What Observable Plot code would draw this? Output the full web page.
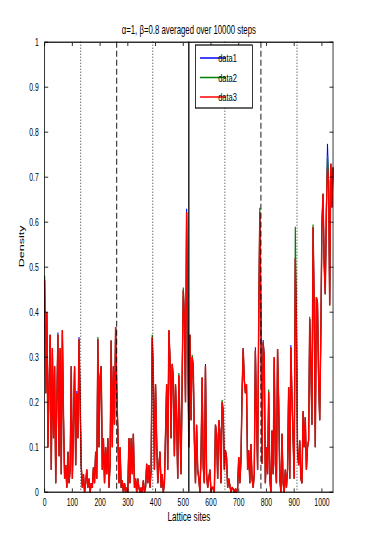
<!DOCTYPE html>
<html>
<head>
<meta charset="utf-8">
<script src="https://cdn.jsdelivr.net/npm/d3@7"></script>
<script src="https://cdn.jsdelivr.net/npm/@observablehq/plot@0.6"></script>
<style>
  html, body { margin: 0; padding: 0; background: #fff; overflow: hidden; }
  #wrap { width: 367px; height: 552px; overflow: hidden; position: relative; }
</style>
</head>
<body>
<div id="wrap"></div>
<script>
const titleText = "\u03b1=1, \u03b2=0.8 averaged over 10000 steps";
const xLabel = "Lattice sites";
const yLabel = "Density";
const seriesNames = ["data1", "data2", "data3"];
const seriesColors = ["#0000ff", "#008000", "#ff0000"];
const siteStep = 4;
const xTicks = [0, 100, 200, 300, 400, 500, 600, 700, 800, 900, 1000];
const yTicks = [0, 0.1, 0.2, 0.3, 0.4, 0.5, 0.6, 0.7, 0.8, 0.9, 1];
const dottedSites = [130, 390, 650, 910];
const dashedSites = [260, 780];
const solidSites = [520];

const data3 = [
0.47,0.22,0.40,0.10,0.24,0.35,0.05,0.32,0.12,0.28,0.02,0.20,0.35,0.08,0.32,0.04,0.36,0.17,0.03,0.06,
0.01,0.09,0.02,0.05,0.28,0.03,0.15,0.28,0.06,0.22,0.12,0.34,0.20,0.06,0.01,0.04,0.00,0.02,0.05,0.01,
0.03,0.00,0.02,0.01,0.055,0.02,0.09,0.03,0.34,0.10,0.255,0.28,0.05,0.12,0.02,0.10,0.04,0.12,0.01,0.06,
0.337,0.10,0.28,0.15,0.367,0.23,0.137,0.02,0.10,0.01,0.026,0.00,0.02,0.00,0.01,0.00,0.12,0.02,0.12,0.04,
0.13,0.01,0.03,0.00,0.03,0.01,0.00,0.01,0.00,0.026,0.00,0.01,0.063,0.02,0.06,0.01,0.05,0.344,0.26,0.05,
0.24,0.115,0.02,0.06,0.09,0.01,0.04,0.00,0.02,0.13,0.24,0.05,0.36,0.30,0.12,0.285,0.255,0.08,0.24,0.16,
0.03,0.26,0.15,0.04,0.255,0.448,0.39,0.20,0.622,0.35,0.10,0.35,0.16,0.30,0.28,0.115,0.02,0.15,0.05,0.03,
0.00,0.08,0.255,0.055,0.02,0.28,0.04,0.01,0.03,0.05,0.00,0.01,0.01,0.00,0.15,0.13,0.03,0.16,0.137,0.02,
0.20,0.18,0.05,0.093,0.078,0.01,0.03,0.015,0.00,0.01,0.007,0.00,0.007,0.00,0.01,0.078,0.02,0.07,0.22,0.32,
0.25,0.22,0.24,0.05,0.093,0.02,0.107,0.03,0.01,0.04,0.315,0.174,0.05,0.38,0.622,0.39,0.063,0.333,0.30,0.02,
0.10,0.04,0.222,0.03,0.00,0.137,0.04,0.30,0.063,0.02,0.318,0.196,0.03,0.00,0.13,0.02,0.00,0.05,0.01,0.05,
0.233,0.03,0.322,0.21,0.12,0.03,0.52,0.367,0.09,0.06,0.115,0.03,0.02,0.18,0.10,0.167,0.05,0.10,0.115,0.385,
0.285,0.15,0.589,0.42,0.10,0.433,0.42,0.25,0.16,0.35,0.596,0.663,0.507,0.44,0.626,0.72,0.69,0.415,0.73,0.633,0.72
];

const data2 = [
0.48,0.22,0.40,0.10,0.24,0.35,0.05,0.32,0.12,0.28,0.02,0.20,0.35,0.08,0.32,0.04,0.36,0.17,0.03,0.06,
0.01,0.09,0.02,0.05,0.28,0.03,0.15,0.28,0.06,0.22,0.12,0.34,0.20,0.06,0.01,0.04,0.00,0.02,0.05,0.01,
0.03,0.00,0.02,0.01,0.055,0.02,0.09,0.03,0.345,0.10,0.255,0.28,0.05,0.12,0.02,0.10,0.04,0.12,0.01,0.06,
0.337,0.10,0.28,0.15,0.367,0.23,0.137,0.02,0.10,0.01,0.026,0.00,0.02,0.00,0.01,0.00,0.12,0.02,0.12,0.04,
0.13,0.01,0.03,0.00,0.03,0.01,0.00,0.01,0.00,0.026,0.00,0.01,0.063,0.02,0.06,0.01,0.05,0.35,0.26,0.05,
0.24,0.115,0.02,0.06,0.09,0.01,0.04,0.00,0.02,0.13,0.24,0.05,0.36,0.30,0.12,0.285,0.255,0.08,0.24,0.16,
0.03,0.265,0.15,0.04,0.255,0.455,0.39,0.20,0.622,0.35,0.10,0.35,0.16,0.305,0.28,0.115,0.02,0.15,0.05,0.03,
0.00,0.08,0.255,0.055,0.02,0.28,0.04,0.01,0.03,0.05,0.00,0.01,0.01,0.00,0.15,0.13,0.03,0.16,0.137,0.02,
0.205,0.18,0.05,0.093,0.078,0.01,0.03,0.015,0.00,0.01,0.007,0.00,0.007,0.00,0.01,0.078,0.02,0.07,0.22,0.32,
0.25,0.22,0.24,0.05,0.093,0.02,0.107,0.03,0.01,0.04,0.315,0.174,0.05,0.38,0.632,0.39,0.063,0.333,0.30,0.02,
0.10,0.04,0.228,0.03,0.00,0.137,0.04,0.30,0.063,0.02,0.318,0.196,0.03,0.00,0.13,0.02,0.00,0.05,0.01,0.05,
0.233,0.03,0.322,0.21,0.12,0.03,0.59,0.367,0.09,0.06,0.115,0.03,0.02,0.18,0.10,0.167,0.05,0.10,0.115,0.39,
0.285,0.15,0.595,0.42,0.10,0.433,0.42,0.25,0.16,0.35,0.596,0.663,0.507,0.44,0.626,0.748,0.69,0.415,0.73,0.633,0.72
];

const data1 = [
0.47,0.22,0.40,0.10,0.24,0.35,0.05,0.32,0.12,0.28,0.02,0.20,0.355,0.08,0.32,0.04,0.36,0.17,0.03,0.06,
0.01,0.09,0.02,0.05,0.28,0.03,0.15,0.28,0.06,0.225,0.12,0.345,0.20,0.06,0.01,0.04,0.00,0.02,0.05,0.01,
0.03,0.00,0.02,0.01,0.055,0.02,0.09,0.03,0.34,0.10,0.255,0.28,0.05,0.12,0.02,0.10,0.04,0.12,0.01,0.06,
0.337,0.10,0.28,0.15,0.367,0.23,0.137,0.02,0.10,0.01,0.026,0.00,0.02,0.00,0.01,0.00,0.12,0.02,0.12,0.04,
0.13,0.01,0.03,0.00,0.03,0.01,0.00,0.01,0.00,0.026,0.00,0.01,0.063,0.02,0.06,0.01,0.05,0.344,0.26,0.05,
0.24,0.115,0.02,0.06,0.09,0.01,0.04,0.00,0.02,0.13,0.24,0.05,0.36,0.30,0.12,0.285,0.255,0.08,0.24,0.16,
0.03,0.26,0.15,0.04,0.255,0.448,0.39,0.20,0.63,0.35,0.10,0.35,0.16,0.30,0.28,0.115,0.02,0.15,0.05,0.03,
0.00,0.08,0.255,0.055,0.02,0.285,0.04,0.01,0.03,0.05,0.00,0.01,0.01,0.00,0.15,0.13,0.03,0.16,0.137,0.02,
0.20,0.18,0.05,0.093,0.078,0.01,0.03,0.015,0.00,0.01,0.007,0.00,0.007,0.00,0.01,0.078,0.02,0.07,0.22,0.32,
0.25,0.22,0.24,0.05,0.093,0.02,0.107,0.03,0.01,0.04,0.322,0.174,0.05,0.38,0.622,0.39,0.063,0.338,0.30,0.02,
0.10,0.04,0.222,0.03,0.00,0.137,0.04,0.30,0.063,0.02,0.318,0.20,0.03,0.00,0.13,0.02,0.00,0.05,0.01,0.05,
0.233,0.03,0.327,0.21,0.12,0.03,0.52,0.367,0.09,0.06,0.115,0.03,0.02,0.18,0.10,0.167,0.05,0.10,0.115,0.385,
0.285,0.15,0.589,0.42,0.10,0.433,0.42,0.25,0.16,0.35,0.596,0.663,0.512,0.44,0.626,0.774,0.69,0.42,0.73,0.633,0.72
];

// horizontal squeeze of the original figure
const K = 0.65;
const W = 367 / K;
const H = 552;

const allSeries = [data1, data2, data3];
const widths = [1.6, 1.8, 2.2];
const lineMarks = allSeries.map((arr, si) =>
  Plot.lineY(arr, {x: (d, i) => i * siteStep, y: d => d, stroke: seriesColors[si], strokeWidth: widths[si], strokeLinejoin: "miter", strokeMiterlimit: 1})
);

const fontFam = "'Liberation Sans', Arial, Helvetica, sans-serif";

const svg = Plot.plot({
  width: W,
  height: H,
  marginLeft: 44.3 / K,
  marginRight: 34.3 / K,
  marginTop: 41.7,
  marginBottom: 60.3,
  style: {fontFamily: fontFam, fontSize: "10px", background: "white", color: "black"},
  x: {domain: [0, 1040]},
  y: {domain: [0, 1]},
  marks: [
    ...lineMarks,
    Plot.ruleX(dottedSites, {stroke: "black", strokeWidth: 1, strokeDasharray: "1,2"}),
    Plot.ruleX(dashedSites, {stroke: "black", strokeWidth: 1.4, strokeDasharray: "6,3"}),
    Plot.ruleX(solidSites, {stroke: "black", strokeWidth: 2}),
    Plot.frame({stroke: "black", strokeWidth: 1.2}),
    // inward ticks
    Plot.axisX(xTicks, {anchor: "bottom", tickSize: 3.3, dy: -3.3, fill: "none", label: null}),
    Plot.axisX(xTicks, {anchor: "top", tickSize: 3.3, dy: 3.3, fill: "none", label: null}),
    Plot.axisY(yTicks, {anchor: "left", tickSize: 6, dx: 6, fill: "none", label: null}),
    Plot.axisY(yTicks, {anchor: "right", tickSize: 6, dx: -6, fill: "none", label: null}),
    // tick labels
    Plot.axisX(xTicks, {anchor: "bottom", tickSize: 0, stroke: "none", tickPadding: 6.5, fontSize: 10.5, label: null, tickFormat: d => String(d)}),
    Plot.axisY(yTicks, {anchor: "left", tickSize: 0, stroke: "none", tickPadding: 9, fontSize: 10.5, label: null, tickFormat: d => String(d)}),
    // axis titles and title
    Plot.text([xLabel], {frameAnchor: "bottom", dy: 29, fontSize: 12.5, fill: "black"}),
    Plot.text([yLabel], {frameAnchor: "left", dx: -35, rotate: -90, fontSize: 12.5, fill: "black"}),
    Plot.text([titleText], {frameAnchor: "top", dy: -16.5, fontSize: 12, fill: "black"})
  ]
});

svg.style.maxWidth = "none";
svg.style.width = W + "px";
svg.style.height = H + "px";
svg.style.transformOrigin = "0 0";
svg.style.transform = `scaleX(${K})`;

// legend (MATLAB style box)
const lg = d3.select(svg).append("g").attr("font-family", fontFam).attr("font-size", 11.5);
const lx0 = 195.5 / K, lx1 = 252.5 / K, ly0 = 45, ly1 = 108;
lg.append("rect").attr("x", lx0).attr("y", ly0).attr("width", lx1 - lx0).attr("height", ly1 - ly0)
  .attr("fill", "white").attr("stroke", "black").attr("stroke-width", 1.2);
const rowY = [58, 77.5, 97];
seriesNames.forEach((name, i) => {
  lg.append("line").attr("x1", 200 / K).attr("x2", 226 / K).attr("y1", rowY[i]).attr("y2", rowY[i])
    .attr("stroke", seriesColors[i]).attr("stroke-width", 1.5);
  lg.append("text").attr("x", 227.5 / K).attr("y", rowY[i]).attr("dy", "0.35em")
    .attr("fill", "black").text(name);
});

document.getElementById("wrap").appendChild(svg);
</script>
</body>
</html>
